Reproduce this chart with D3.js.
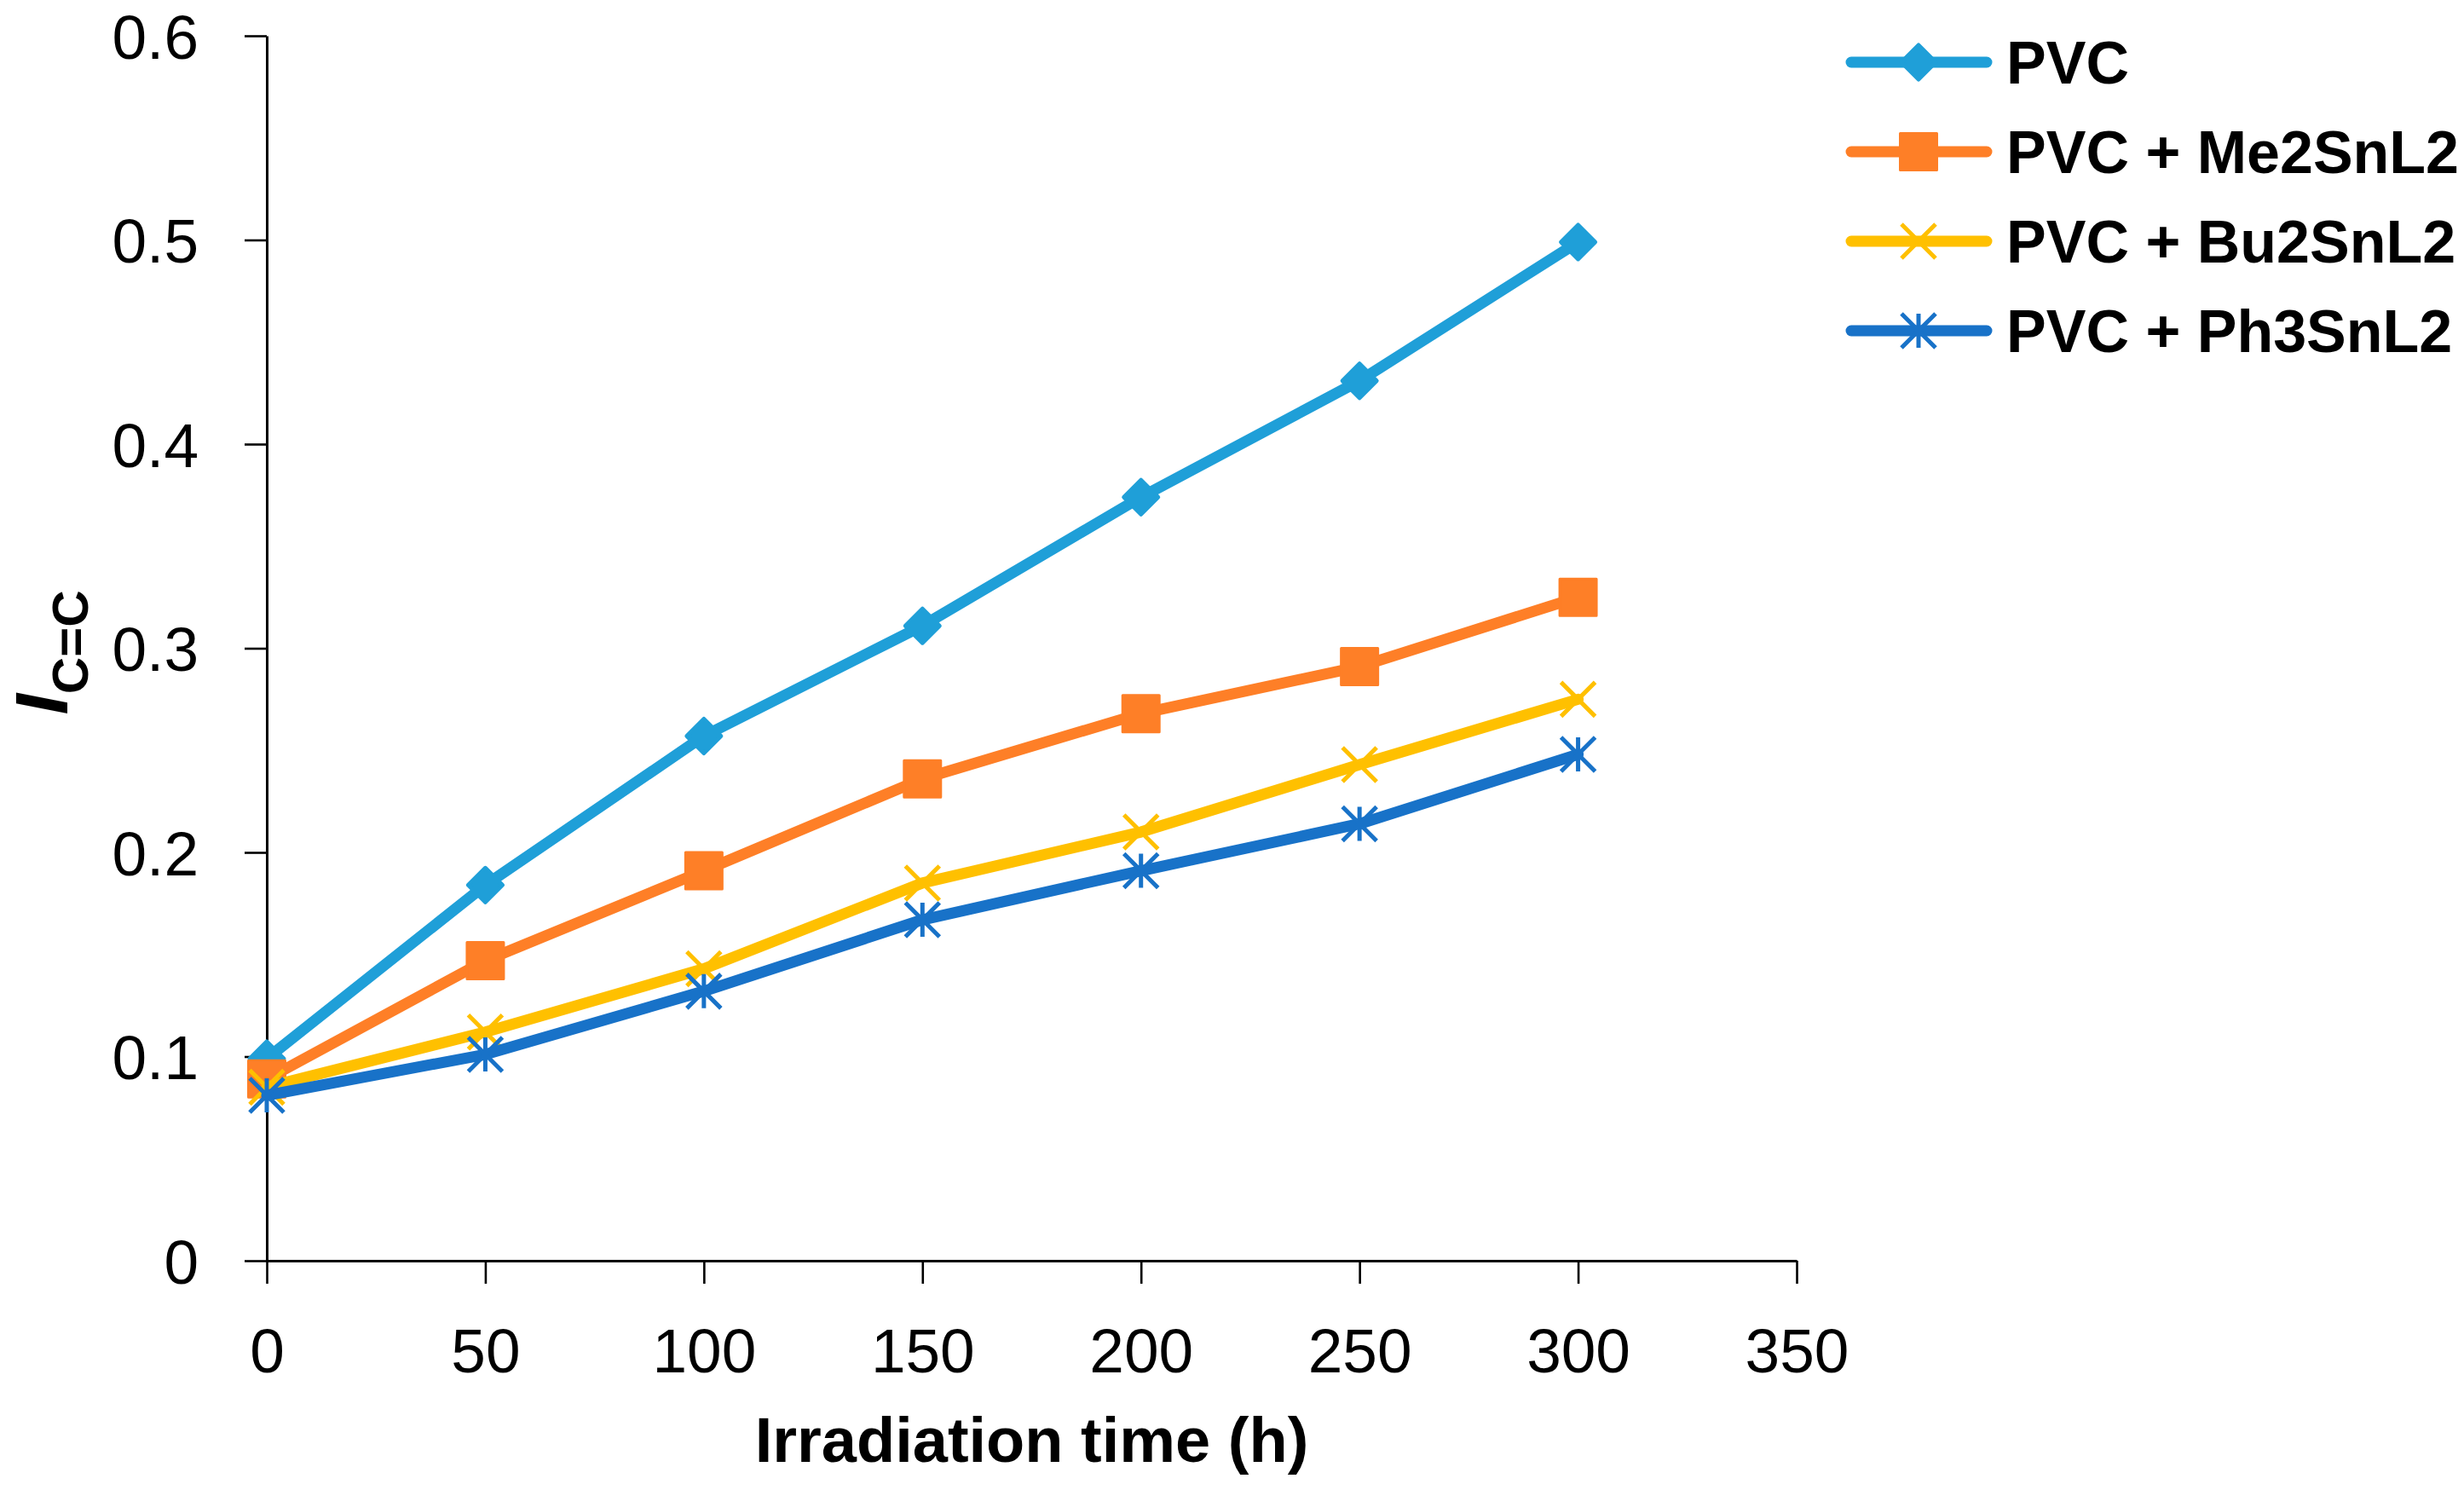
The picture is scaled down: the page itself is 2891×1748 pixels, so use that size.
<!DOCTYPE html>
<html>
<head>
<meta charset="utf-8">
<script src="https://cdn.jsdelivr.net/npm/d3@7"></script>
<style>
  body { margin: 0; background: #fff; }
  text { font-family: "Liberation Sans", Arial, sans-serif; }
</style>
</head>
<body>
<svg id="chart"></svg>
<script>
// data
var hours = [0, 50, 100, 150, 200, 250, 300];
var seriesNames = ["PVC", "PVC + Me2SnL2", "PVC + Bu2SnL2", "PVC + Ph3SnL2"];
var pvc = [0.099, 0.184, 0.257, 0.311, 0.374, 0.431, 0.499];
var me2 = [0.089, 0.147, 0.191, 0.236, 0.268, 0.291, 0.325];
var bu2 = [0.085, 0.112, 0.143, 0.185, 0.210, 0.243, 0.275];
var ph3 = [0.081, 0.101, 0.132, 0.167, 0.191, 0.214, 0.248];
var xTicks = [0, 50, 100, 150, 200, 250, 300, 350];
var yTicks = [0, 0.1, 0.2, 0.3, 0.4, 0.5, 0.6];

var colors = ["#1f9fd8", "#fe7f27", "#ffc000", "#1872c8"];
var markers = ["diamond", "square", "x", "star"];
var allValues = [pvc, me2, bu2, ph3];

var width = 2891, height = 1748;
var svg = d3.select("#chart").attr("width", width).attr("height", height);

var x = d3.scaleLinear().domain([0, 350]).range([313, 2108]);
var y = d3.scaleLinear().domain([0, 0.6]).range([1479, 42]);

// Y axis
var gy = svg.append("g")
  .attr("transform", "translate(" + x(0) + ",0)")
  .call(d3.axisLeft(y).tickValues(yTicks).tickSize(26).tickSizeOuter(0).tickPadding(54)
    .tickFormat(function (d) { return d === 0 ? "0" : d.toFixed(1); }));
gy.select(".domain").attr("stroke-width", 3);
gy.selectAll(".tick line").attr("stroke-width", 2.6);
gy.selectAll(".tick text").attr("font-size", 73).attr("dy", "0.36em")
  .style("font-family", "Liberation Sans, Arial, sans-serif");

// X axis
var gx = svg.append("g")
  .attr("transform", "translate(0," + y(0) + ")")
  .call(d3.axisBottom(x).tickValues(xTicks).tickSize(27).tickSizeOuter(0).tickPadding(52));
gx.select(".domain").attr("stroke-width", 3.2);
gx.selectAll(".tick line").attr("stroke-width", 2.6);
gx.selectAll(".tick text").attr("font-size", 73)
  .style("font-family", "Liberation Sans, Arial, sans-serif");

// axis titles
svg.append("text")
  .attr("x", (x(0) + x(350)) / 2)
  .attr("y", 1715)
  .attr("text-anchor", "middle")
  .attr("font-size", 74)
  .attr("font-weight", "bold")
  .text("Irradiation time (h)");

var yl = svg.append("text")
  .attr("transform", "translate(79," + (y(0.3) + 5) + ") rotate(-90)")
  .attr("text-anchor", "middle")
  .attr("font-weight", "bold");
yl.append("tspan").attr("font-size", 88).attr("font-style", "italic").text("I");
yl.append("tspan").attr("font-size", 60).attr("dy", 24).text("C=C");

// markers
function drawMarker(g, type, cx, cy, color) {
  if (type === "diamond") {
    var r = 20;
    g.append("path")
      .attr("d", "M" + cx + "," + (cy - r) + "L" + (cx + r) + "," + cy + "L" + cx + "," + (cy + r) + "L" + (cx - r) + "," + cy + "Z")
      .attr("fill", color).attr("stroke", color).attr("stroke-width", 5).attr("stroke-linejoin", "round");
  } else if (type === "square") {
    g.append("rect")
      .attr("x", cx - 21.5).attr("y", cy - 21.5).attr("width", 43).attr("height", 43)
      .attr("fill", color).attr("stroke", color).attr("stroke-width", 3).attr("stroke-linejoin", "round");
  } else {
    var h = 20;
    var d = "M" + (cx - h) + "," + (cy - h) + "L" + (cx + h) + "," + (cy + h) +
      "M" + (cx - h) + "," + (cy + h) + "L" + (cx + h) + "," + (cy - h);
    if (type === "star") d += "M" + cx + "," + (cy - h) + "L" + cx + "," + (cy + h);
    g.append("path").attr("d", d).attr("fill", "none")
      .attr("stroke", color).attr("stroke-width", 5);
  }
}

var line = d3.line()
  .x(function (d) { return x(d[0]); })
  .y(function (d) { return y(d[1]); });

allValues.forEach(function (vals, i) {
  var pts = hours.map(function (h, j) { return [h, vals[j]]; });
  var g = svg.append("g");
  g.append("path")
    .attr("d", line(pts))
    .attr("fill", "none")
    .attr("stroke", colors[i])
    .attr("stroke-width", 13)
    .attr("stroke-linejoin", "round")
    .attr("stroke-linecap", "round");
  pts.forEach(function (p) {
    drawMarker(g, markers[i], x(p[0]), y(p[1]), colors[i]);
  });
});

// legend
var legend = svg.append("g");
seriesNames.forEach(function (name, i) {
  var ly = 73 + i * 105;
  legend.append("line")
    .attr("x1", 2172).attr("x2", 2331).attr("y1", ly).attr("y2", ly)
    .attr("stroke", colors[i]).attr("stroke-width", 13).attr("stroke-linecap", "round");
  drawMarker(legend, markers[i], 2251, ly, colors[i]);
  legend.append("text")
    .attr("x", 2354).attr("y", ly + 25)
    .attr("font-size", 70).attr("font-weight", "bold")
    .text(name);
});
</script>
</body>
</html>
